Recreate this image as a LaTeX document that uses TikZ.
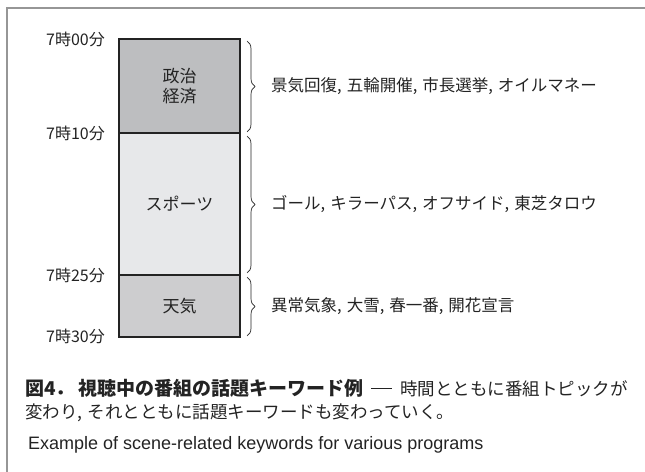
\documentclass[tikz,border=0pt]{standalone}
\usepackage{fontspec}
\setmainfont{Liberation Sans}
\newfontfamily\cjk{Noto Sans CJK JP}
\usetikzlibrary{decorations.pathreplacing}
\definecolor{framegray}{RGB}{150,150,150}
\definecolor{darkfill}{RGB}{189,190,192}
\definecolor{lightfill}{RGB}{231,232,234}
\definecolor{midfill}{RGB}{205,205,207}
\definecolor{inkgray}{RGB}{35,35,35}
\tikzset{
  block/.style={draw=inkgray, line width=1.7bp, minimum width=121bp, inner sep=0pt, align=center, font=\cjk\fontsize{17bp}{20bp}\selectfont, text=inkgray},
  timelbl/.style={anchor=east, inner sep=0pt, font=\cjk\fontsize{16bp}{17bp}\selectfont, text=inkgray},
  kw/.style={anchor=west, inner sep=0pt, font=\cjk\fontsize{16.5bp}{19bp}\selectfont, text=inkgray},
  bracestyle/.style={draw=inkgray, line width=0.7bp, decorate, decoration={brace, amplitude=8bp}},
  captext/.style={anchor=west, inner sep=0pt, text=inkgray}
}
\newcommand{\kc}{,\kern5bp}
\begin{document}
\begin{tikzpicture}[x=1bp,y=-1bp]
\useasboundingbox (0,0) rectangle (645,472);
% frame
\draw[framegray, line width=1.5bp] (7,472) -- (7,8) -- (645,8);
% blocks
\node[block, fill=darkfill, minimum height=94bp] (b1) at (179.5,86) {政治\\経済};
\node[block, fill=lightfill, minimum height=142bp] (b2) at (179.5,204) {スポーツ};
\node[block, fill=midfill, minimum height=62bp] (b3) at (179.5,306) {天気};
% time labels
\node[timelbl] (t0) at (105,39) {7時00分};
\node[timelbl] (t1) at (105,133) {7時10分};
\node[timelbl] (t2) at (105,275) {7時25分};
\node[timelbl] (t3) at (105,336) {7時30分};
% braces
\coordinate (c1a) at (247,41);
\coordinate (c1b) at (247,132);
\coordinate (c2a) at (247,136);
\coordinate (c2b) at (247,273);
\coordinate (c3a) at (247,277);
\coordinate (c3b) at (247,336);
\draw[bracestyle] (c1a) -- (c1b);
\draw[bracestyle] (c2a) -- (c2b);
\draw[bracestyle] (c3a) -- (c3b);
% keywords
\node[kw] (k1) at (271,86) {景気回復\kc 五輪開催\kc 市長選挙\kc オイルマネー};
\node[kw] (k2) at (271,204) {ゴール\kc キラーパス\kc オフサイド\kc 東芝タロウ};
\node[kw] (k3) at (271,306) {異常気象\kc 大雪\kc 春一番\kc 開花宣言};
% caption
\node[captext, font=\cjk\fontsize{17.5bp}{20bp}\selectfont] (cap1) at (25,388) {{\bfseries\fontsize{19bp}{20bp}\selectfont 図4．\hspace{0.2em}視聴中の番組の話題キーワード例}\hspace{0.45em}\raisebox{0.36em}{\rule{1.2em}{0.07em}}\hspace{0.45em}時間とともに番組トピックが};
\node[captext, font=\cjk\fontsize{17.5bp}{20bp}\selectfont] (cap2) at (25,413) {変わり\kc それとともに話題キーワードも変わっていく。};
\node[captext, font=\fontsize{18bp}{20bp}\selectfont] (cap3) at (28,445) {Example of scene-related keywords for various programs};
\end{tikzpicture}
\end{document}
